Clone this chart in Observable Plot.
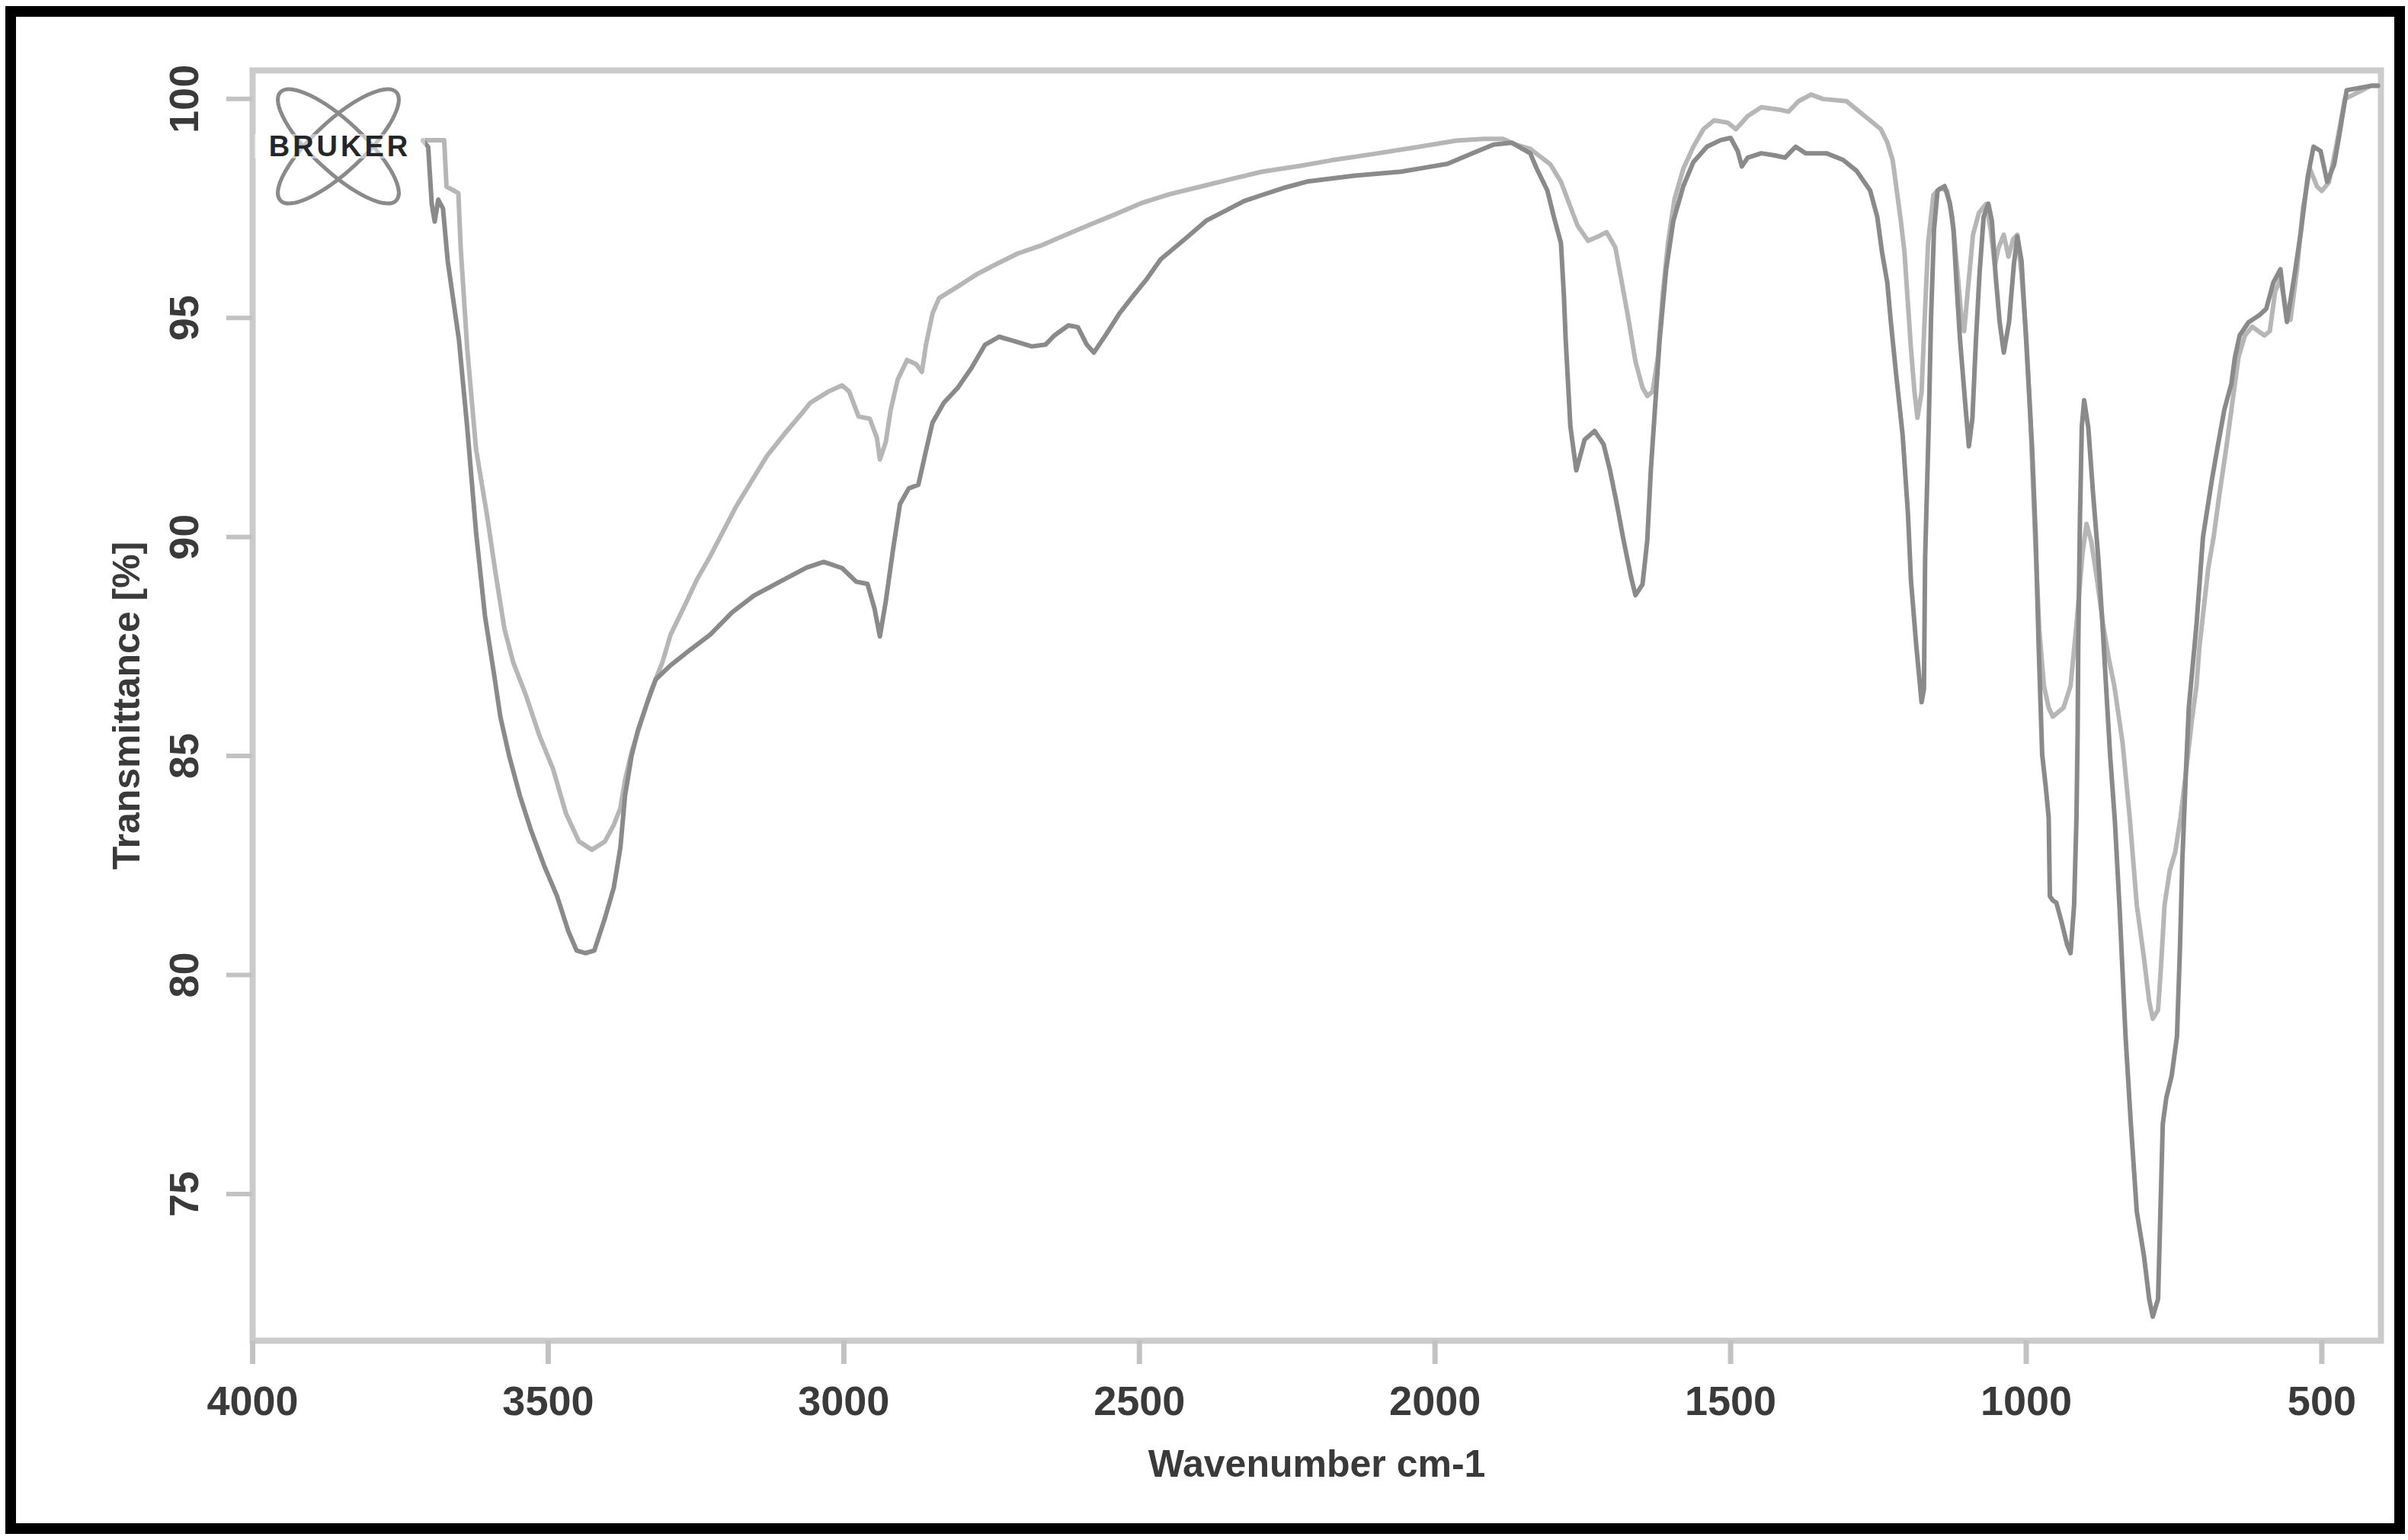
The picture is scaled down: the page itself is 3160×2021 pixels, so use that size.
<!DOCTYPE html>
<html>
<head>
<meta charset="utf-8">
<script src="https://cdn.jsdelivr.net/npm/d3@7"></script>
<script src="https://cdn.jsdelivr.net/npm/@observablehq/plot@0.6"></script>
<style>
  html, body { margin: 0; padding: 0; background: #fff; }
  body { width: 3160px; height: 2021px; position: relative; overflow: hidden; }
  #chart { position: absolute; left: 0; top: 0; }
  #logo { position: absolute; left: 330px; top: 100px; }
  #border { position: absolute; left: 7px; top: 8px; width: 3149px; height: 2005px;
            border: 14px solid #000; box-sizing: border-box; pointer-events: none; }
</style>
</head>
<body>
<div id="chart"></div>
<svg id="logo" width="260" height="220" viewBox="0 0 260 220">
  <ellipse cx="114" cy="92" rx="104" ry="33" fill="none" stroke="#8a8a8a" stroke-width="5" transform="rotate(43 114 92)"></ellipse>
  <ellipse cx="114" cy="92" rx="104" ry="33" fill="none" stroke="#8a8a8a" stroke-width="5" transform="rotate(-43 114 92)"></ellipse>
  <rect x="4" y="76" width="224" height="32" fill="#fff" opacity="0.5"></rect>
  <text x="116" y="105" text-anchor="middle" font-family="'Liberation Sans', Arial, sans-serif" font-weight="bold" font-size="38" letter-spacing="4" fill="#262626">BRUKER</text>
</svg>
<div id="border"></div>
<script>
// Sample A (darker trace): wavenumber (cm-1) and transmittance (%)
const wnA = [3712,3703,3697,3692,3686,3678,3670,3651,3637,3622,3607,3592,3581,3566,3548,3529,3507,3485,3466,3452,3437,3422,3404,3389,3378,3370,3359,3348,3333,3318,3293,3263,3226,3189,3152,3108,3063,3034,3003,2979,2960,2948,2939,2929,2917,2905,2890,2874,2862,2850,2831,2807,2784,2761,2737,2714,2682,2659,2643,2620,2604,2589,2577,2557,2534,2511,2487,2464,2440,2417,2386,2354,2323,2292,2253,2214,2136,2057,2018,1979,1940,1901,1870,1839,1828,1810,1799,1787,1782,1779,1775,1771,1761,1747,1730,1715,1704,1692,1681,1669,1661,1649,1641,1635,1629,1620,1609,1597,1580,1563,1540,1517,1500,1488,1481,1471,1448,1425,1408,1390,1373,1338,1310,1287,1264,1252,1244,1235,1229,1220,1209,1200,1195,1186,1177,1173,1171,1165,1161,1156,1150,1138,1129,1123,1118,1112,1103,1097,1091,1085,1079,1072,1064,1058,1052,1045,1038,1029,1021,1015,1008,1002,996,990,984,979,973,967,962,960,955,949,940,931,925,919,915,913,912,909,906,902,895,887,878,871,865,858,850,842,832,823,813,801,792,786,777,773,769,763,754,745,740,736,730,725,712,701,686,677,665,653,647,639,624,606,594,582,570,563,559,547,535,524,514,502,491,479,470,458,417,405];
const tA = [99.05,98.9,97.6,97.2,97.7,97.5,96.3,94.5,92.5,90.1,88.2,86.9,85.9,85.0,84.1,83.3,82.5,81.8,81.0,80.56,80.5,80.56,81.3,82.0,82.9,84.1,85.0,85.6,86.2,86.75,87.07,87.39,87.77,88.28,88.66,88.98,89.3,89.43,89.29,88.98,88.93,88.36,87.73,88.53,89.69,90.75,91.11,91.19,91.91,92.61,93.06,93.41,93.86,94.39,94.57,94.48,94.35,94.39,94.61,94.83,94.79,94.39,94.21,94.61,95.1,95.5,95.9,96.34,96.61,96.87,97.23,97.45,97.67,97.81,97.98,98.12,98.25,98.34,98.43,98.52,98.74,98.96,99.0,98.76,98.41,97.91,97.31,96.71,95.51,94.51,93.52,92.52,91.52,92.22,92.42,92.12,91.52,90.72,89.92,89.12,88.67,88.92,89.92,91.52,92.72,94.51,96.11,97.21,98.01,98.56,98.91,99.06,99.11,98.81,98.46,98.66,98.76,98.71,98.66,98.91,98.76,98.76,98.61,98.36,97.91,97.31,96.51,95.81,94.91,93.71,92.32,90.52,89.02,87.52,86.23,86.53,89.52,92.52,95.01,97.01,97.91,98.01,97.61,97.01,95.81,94.51,93.02,92.07,92.72,94.51,96.01,97.31,97.61,97.21,96.01,94.91,94.21,94.91,96.21,96.86,96.31,94.91,93.52,92.02,90.02,87.52,85.03,84.3,83.59,81.8,81.7,81.65,81.2,80.7,80.5,81.6,83.59,85.59,87.52,90.52,92.52,93.12,92.5,91.0,89.5,88.0,86.6,85.0,83.5,81.5,78.6,76.6,74.6,73.6,72.6,72.2,72.6,74.6,76.6,77.2,77.7,78.6,80.6,82.6,84.6,86.1,88.0,90.0,91.3,92.0,92.9,93.5,94.1,94.6,94.9,95.06,95.21,95.81,96.11,95.31,94.91,95.91,97.01,98.21,98.91,98.81,98.11,98.51,99.21,100.2,100.3,100.3];

// Sample B (lighter trace)
const wnB = [3712,3676,3672,3652,3648,3637,3622,3603,3589,3574,3559,3537,3515,3492,3470,3448,3426,3404,3389,3378,3370,3359,3344,3326,3307,3293,3270,3248,3226,3204,3182,3159,3130,3100,3073,3057,3026,3003,2991,2975,2956,2944,2939,2929,2921,2909,2893,2878,2868,2861,2850,2839,2807,2776,2745,2706,2667,2636,2589,2542,2495,2448,2393,2339,2292,2229,2175,2096,2026,1964,1917,1885,1862,1839,1805,1787,1773,1759,1741,1724,1710,1695,1684,1672,1661,1649,1641,1632,1623,1615,1606,1595,1580,1563,1546,1528,1505,1491,1471,1448,1419,1402,1385,1364,1344,1304,1287,1264,1246,1235,1226,1220,1212,1206,1200,1195,1189,1184,1177,1172,1166,1157,1146,1134,1125,1116,1109,1105,1099,1090,1080,1068,1060,1053,1047,1038,1030,1022,1015,1008,1000,992,985,978,970,962,955,946,937,925,915,905,898,890,880,870,860,851,837,825,813,801,792,786,777,772,766,757,748,739,730,720,712,707,692,683,674,662,650,641,630,618,597,588,579,570,562,553,542,532,520,508,500,488,476,461,417,405];
const tB = [99.06,99.06,98.0,97.85,96.6,94.3,92.0,90.45,89.17,87.9,87.13,86.36,85.47,84.71,83.69,83.05,82.86,83.05,83.43,83.81,84.45,85.09,85.73,86.49,87.13,87.77,88.41,89.04,89.56,90.13,90.7,91.21,91.85,92.36,92.79,93.06,93.32,93.46,93.32,92.75,92.7,92.26,91.77,92.17,92.88,93.59,94.04,93.95,93.77,94.39,95.1,95.45,95.72,95.99,96.21,96.47,96.65,96.83,97.1,97.36,97.63,97.83,98.01,98.19,98.34,98.47,98.6,98.76,98.91,99.05,99.09,99.09,98.95,98.86,98.51,98.11,97.61,97.11,96.76,96.86,96.96,96.61,95.81,94.91,94.01,93.41,93.22,93.32,94.11,95.51,96.71,97.71,98.41,98.91,99.31,99.51,99.46,99.31,99.61,99.81,99.76,99.71,99.95,100.1,100.0,99.95,99.76,99.51,99.31,99.01,98.61,98.01,97.21,96.51,95.31,94.31,93.31,92.72,93.31,94.91,96.71,97.81,97.96,97.91,97.3,96.0,94.9,94.7,95.6,96.9,97.4,97.6,97.0,96.2,96.6,96.9,96.4,96.8,96.9,96.0,94.6,92.4,90.0,87.9,86.6,86.1,85.9,86.0,86.1,86.6,88.0,89.6,90.3,89.9,89.0,88.0,87.2,86.6,85.3,83.6,81.6,80.4,79.4,79.0,79.2,80.2,81.6,82.4,82.8,83.6,84.6,85.8,86.6,87.5,89.3,90.0,90.9,92.0,93.2,94.1,94.6,94.8,94.6,94.7,95.6,95.9,95.3,94.96,96.1,97.5,98.4,98.0,97.9,98.1,98.9,100.0,100.3,100.3];

const xTicks = [4000, 3500, 3000, 2500, 2000, 1500, 1000, 500];
const yTicks = [75, 80, 85, 90, 95, 100];
const xTitle = "Wavenumber cm-1";
const yTitle = "Transmittance [%]";

const rowsA = wnA.map((w, i) => ({w, t: tA[i]}));
const rowsB = wnB.map((w, i) => ({w, t: tB[i]}));

const fontFamily = "'Liberation Sans', Arial, 'DejaVu Sans', sans-serif";
const ink = "#3a3a3a";

const chart = Plot.plot({
  width: 3160,
  height: 2021,
  marginLeft: 331,
  marginRight: 36,
  marginTop: 92,
  marginBottom: 262,
  style: {fontFamily, fontSize: "52px", color: ink, background: "transparent"},
  x: {domain: [4000, 400]},
  y: {domain: [71.65, 100.65]},
  marks: [
    Plot.frame({stroke: "#cbcbcb", strokeWidth: 8}),
    Plot.axisX({ticks: xTicks, tickSize: 31, tickPadding: 28, stroke: "#c2c2c2", strokeWidth: 7,
                fill: ink, fontSize: 54, fontWeight: "bold", label: null, tickFormat: d3.format("d")}),
    Plot.axisY({ticks: yTicks, tickSize: 34, tickPadding: 38, tickRotate: -90, stroke: "#c2c2c2", strokeWidth: 6,
                fill: ink, fontSize: 54, fontWeight: "bold", label: null, tickFormat: d3.format("d")}),
    Plot.line(rowsB, {x: "w", y: "t", stroke: "#b6b6b6", strokeWidth: 6, strokeLinejoin: "round"}),
    Plot.line(rowsA, {x: "w", y: "t", stroke: "#8a8a8a", strokeWidth: 6, strokeLinejoin: "round"}),
    Plot.text([xTitle], {text: d => d, frameAnchor: "bottom", dy: 162, lineAnchor: "middle", textAnchor: "middle",
                         fontSize: 50, fontWeight: "bold", fill: ink}),
    Plot.text([yTitle], {text: d => d, frameAnchor: "left", dx: -165, rotate: -90, lineAnchor: "middle", textAnchor: "middle",
                         fontSize: 50, fontWeight: "bold", fill: ink})
  ]
});
document.getElementById("chart").appendChild(chart);
</script>
</body>
</html>
